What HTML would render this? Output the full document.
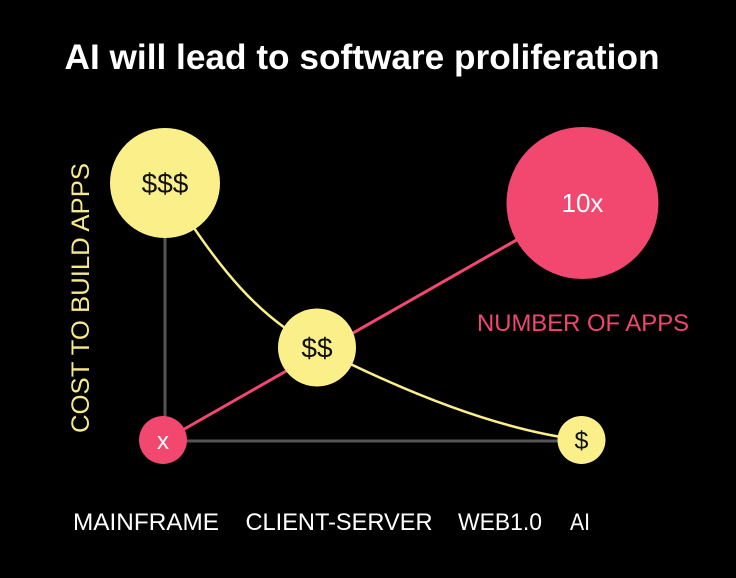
<!DOCTYPE html>
<html><head><meta charset="utf-8">
<style>
html,body{margin:0;padding:0;background:#000;}
body{width:736px;height:573px;overflow:hidden;font-family:"Liberation Sans",sans-serif;}
</style></head>
<body>
<svg id="chart" width="736" height="573" xmlns="http://www.w3.org/2000/svg">
<text x="362" y="69" text-anchor="middle" fill="#fff" font-family="Liberation Sans, sans-serif" font-weight="bold" font-size="35" textLength="595" lengthAdjust="spacingAndGlyphs">AI will lead to software proliferation</text>
<g id="axes"></g>
<g id="lines"></g>
<g id="dots"></g>
<text transform="translate(89,298) rotate(-90)" text-anchor="middle" fill="#f5e98a" font-size="25" font-family="Liberation Sans, sans-serif" textLength="270" lengthAdjust="spacingAndGlyphs">COST TO BUILD APPS</text>
<text x="583" y="331" text-anchor="middle" fill="#f0476e" font-size="24" font-family="Liberation Sans, sans-serif" textLength="212" lengthAdjust="spacingAndGlyphs">NUMBER OF APPS</text>
<g id="xlabels"></g>
</svg>
<script>
const eras = ["MAINFRAME","CLIENT-SERVER","WEB1.0","AI"];
const eraLabelX = [146, 339, 500, 580];
const eraLabelW = [146, 187, 84, 20];
const stage = [0, 1, 2.74];
const costLabels = ["$$$","$$","$"];
const costValues = [100, 36, 0];
const appsValues = [1, 10];
const appsLabels = ["x","10x"];

const NS="http://www.w3.org/2000/svg";
const xS = v => 165 + v*152;
const yCost = v => 440 - v*2.57;
const yApps = v => 440 - (v-1)*26.33;
const YEL="#fbef8a", PINK="#f2476f";
function mk(tag,attrs,parent){const e=document.createElementNS(NS,tag);for(const k in attrs)e.setAttribute(k,attrs[k]);parent.appendChild(e);return e;}
const axes=document.getElementById('axes'),lines=document.getElementById('lines'),dots=document.getElementById('dots'),xl=document.getElementById('xlabels');

const ya=mk('line',{x1:xS(0),y1:yCost(costValues[0]),x2:xS(0),y2:yCost(0)+1,stroke:"#555","stroke-width":3},axes);


const xa=mk('line',{x1:xS(0),y1:yCost(0)+1,x2:xS(stage[2]),y2:yCost(0)+1,stroke:"#555","stroke-width":3},axes);



const p0=[xS(stage[0]),yCost(costValues[0])],p1=[xS(stage[1]),yCost(costValues[1])],p2=[xS(stage[2]),yCost(costValues[2])];
const d=`M${p0[0]},${p0[1]} C${p0[0]+55},${p0[1]+90} ${p1[0]-55},${p1[1]-28} ${p1[0]},${p1[1]} S${p2[0]-100},${p2[1]-12} ${p2[0]},${p2[1]}`;
const cc=mk('path',{d:d,fill:"none",stroke:YEL,"stroke-width":2.5},lines);


const al=mk('line',{x1:xS(stage[0]),y1:yApps(appsValues[0]),x2:xS(stage[2]),y2:yApps(appsValues[1]),stroke:PINK,"stroke-width":3},lines);



const costR=[55,39,24];
const costX=[stage[0],stage[1],stage[2]];
costValues.forEach((v,i)=>{
  const g=mk('g',{},dots);
  
  
  const cx=xS(costX[i]), cy=yCost(v);
  mk('circle',{cx:cx,cy:cy,r:costR[i],fill:YEL},g);
  mk('text',{x:cx,y:cy+(i==2?9:10),"text-anchor":"middle",fill:"#111","font-size":i==2?25:28,"font-family":"Liberation Sans, sans-serif"},g).textContent=costLabels[i];
});
const appsR=[24,76];
const appsX=[stage[0],stage[2]];
appsValues.forEach((v,i)=>{
  const g=mk('g',{},dots);
  
  
  const cx=xS(appsX[i])-(i==0?2:-1), cy=yApps(v);
  mk('circle',{cx:cx,cy:cy,r:appsR[i],fill:PINK},g);
  mk('text',{x:cx,y:cy+9,"text-anchor":"middle",fill:"#fff","font-size":i==0?24:26,"font-family":"Liberation Sans, sans-serif"},g).textContent=appsLabels[i];
});
eras.forEach((e,i)=>{
  const t=mk('text',{x:eraLabelX[i],y:530,"text-anchor":"middle",fill:"#fff","font-size":24,"font-family":"Liberation Sans, sans-serif",textLength:eraLabelW[i],lengthAdjust:"spacingAndGlyphs"},xl);
  
  
  t.textContent=e;
});
</script>
</body></html>
